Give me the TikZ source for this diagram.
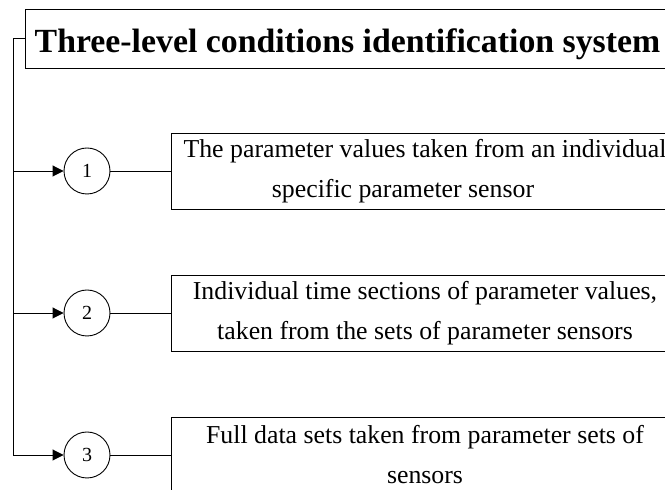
\documentclass[tikz,border=0pt]{standalone}
\usepackage{fontspec}
\setmainfont{Liberation Serif}
\usetikzlibrary{arrows.meta}
\begin{document}
\begin{tikzpicture}[x=1pt,y=1pt, line width=0.9pt,
 box/.style={draw, minimum width=508pt, minimum height=76pt, align=center, font=\fontsize{25.8}{40}\selectfont, inner sep=0pt},
 num/.style={draw, circle, minimum size=46pt, inner sep=0pt, font=\fontsize{20}{24}\selectfont},
 arr/.style={-{Triangle[length=11pt,width=11pt]}}]
\useasboundingbox (0,0) rectangle (665,490);
\node[draw, minimum width=645pt, inner sep=0pt, text height=44pt, text depth=15pt, font=\fontsize{33.8}{40}\bfseries\selectfont] (title) at (347.5,451.5) {Three-level conditions identification system};
\coordinate (top) at (13,451.5);
\coordinate (bot) at (13,35);
\node[num] (c1) at (87,319) {1};
\node[num] (c2) at (87,177) {2};
\node[num] (c3) at (87,35) {3};
\node[box] (b1) at (425,319) {The parameter values taken from an individual\\specific parameter sensor\hspace*{44pt}};
\node[box] (b2) at (425,177) {Individual time sections of parameter values,\\taken from the sets of parameter sensors};
\node[box] (b3) at (425,35) {Full data sets taken from parameter sets of\\sensors};
\draw (title.west) -- (top) -- (bot);
\draw[arr] (top |- c1) -- (c1.west);
\draw[arr] (top |- c2) -- (c2.west);
\draw[arr] (bot) -- (c3.west);
\draw (c1) -- (b1);
\draw (c2) -- (b2);
\draw (c3) -- (b3);
\end{tikzpicture}
\end{document}
